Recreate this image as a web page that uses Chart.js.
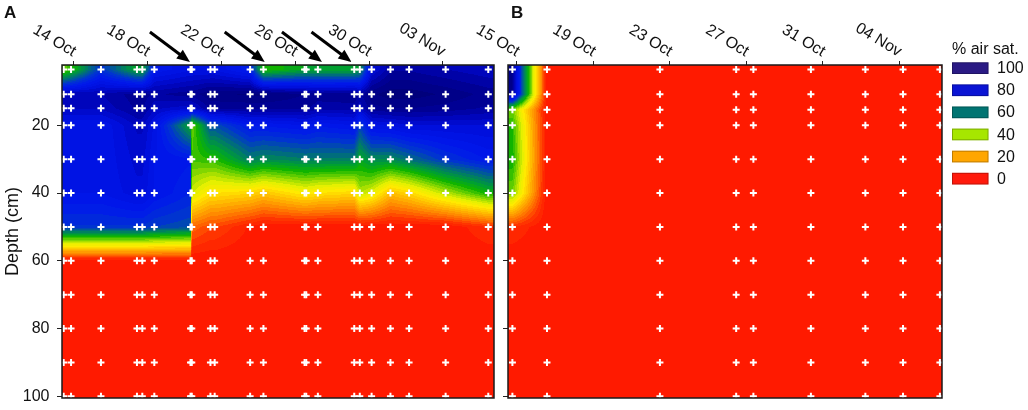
<!DOCTYPE html>
<html>
<head>
<meta charset="utf-8">
<script src="https://cdn.jsdelivr.net/npm/chart.js@4.4.0/dist/chart.umd.min.js"></script>
<style>
  body { margin: 0; background: #fff; width: 1028px; height: 410px; overflow: hidden; }
  #wrapA { position: absolute; left: 0; top: 0; width: 500px; height: 410px; }
  #wrapB { position: absolute; left: 440px; top: 0; width: 588px; height: 410px; }
</style>
</head>
<body>
<div id="wrapA"><canvas id="chartA"></canvas></div>
<div id="wrapB"><canvas id="chartB"></canvas></div>
<script>
// Panel A: sampling times (days after 14 Oct) and depths (cm)
const daysA = [-0.54, -0.14, 1.48, 3.43, 3.72, 4.37, 6.33, 6.40, 7.41, 7.64, 9.56, 10.28,
               12.51, 12.60, 13.23, 15.20, 15.50, 16.14, 17.16, 18.17, 20.15, 22.46];
const depthsA = [3.5, 10.8, 15, 20, 30, 40, 50, 60, 70, 80, 90, 100];
// % air saturation, one row per depth, one column per sampling time
const oxygenA = [
  [45, 50, 72, 55, 55, 78, 82, 82, 82, 82, 76, 50, 55, 55, 55, 55, 58, 84, 92, 92, 90, 88],
  [90, 90, 90, 94, 94, 92, 94, 94, 97, 97, 98, 98, 95, 95, 94, 95, 92, 97, 99, 99, 97, 94],
  [88, 88, 88, 93, 93, 88, 86, 86, 93, 93, 93, 93, 93, 93, 91, 91, 88, 94, 95, 95, 94, 92],
  [80, 80, 80, 88, 88, 82, 55, 45, 68, 68, 78, 78, 80, 80, 78, 80, 70, 82, 83, 85, 85, 85],
  [80, 80, 80, 86, 86, 80, 78, 48, 50, 50, 62, 60, 62, 62, 62, 62, 55, 60, 60, 64, 72, 78],
  [80, 80, 80, 84, 84, 80, 75, 38, 30, 30, 28, 25, 32, 32, 30, 28, 40, 36, 24, 28, 40, 52],
  [72, 72, 72, 72, 72, 70, 68, 12, 8, 8, 2, 0, 0, 0, 0, 0, 0, 0, 0, 0, 0, 5],
  [0, 0, 0, 0, 0, 0, 0, 0, 0, 0, 0, 0, 0, 0, 0, 0, 0, 0, 0, 0, 0, 0],
  [0, 0, 0, 0, 0, 0, 0, 0, 0, 0, 0, 0, 0, 0, 0, 0, 0, 0, 0, 0, 0, 0],
  [0, 0, 0, 0, 0, 0, 0, 0, 0, 0, 0, 0, 0, 0, 0, 0, 0, 0, 0, 0, 0, 0],
  [0, 0, 0, 0, 0, 0, 0, 0, 0, 0, 0, 0, 0, 0, 0, 0, 0, 0, 0, 0, 0, 0],
  [0, 0, 0, 0, 0, 0, 0, 0, 0, 0, 0, 0, 0, 0, 0, 0, 0, 0, 0, 0, 0, 0]
];
const tickDaysA = [0, 4, 8, 12, 16, 20];
const tickLabelsA = ['14 Oct', '18 Oct', '22 Oct', '26 Oct', '30 Oct', '03 Nov'];
const arrowDaysA = [6.3, 10.35, 13.45, 15.05];

// Panel B: sampling times (days after 15 Oct)
const daysB = [-0.24, 1.57, 7.48, 11.47, 12.37, 15.38, 18.23, 20.2, 22.13];
const depthsB = [3.5, 10.8, 15.4, 20, 30, 40, 50, 60, 70, 80, 90, 100];
const oxygenB = [
  [95, 0, 0, 0, 0, 0, 0, 0, 0],
  [95, 0, 0, 0, 0, 0, 0, 0, 0],
  [45, 0, 0, 0, 0, 0, 0, 0, 0],
  [50, 0, 0, 0, 0, 0, 0, 0, 0],
  [52, 0, 0, 0, 0, 0, 0, 0, 0],
  [45, 0, 0, 0, 0, 0, 0, 0, 0],
  [5, 0, 0, 0, 0, 0, 0, 0, 0],
  [0, 0, 0, 0, 0, 0, 0, 0, 0],
  [0, 0, 0, 0, 0, 0, 0, 0, 0],
  [0, 0, 0, 0, 0, 0, 0, 0, 0],
  [0, 0, 0, 0, 0, 0, 0, 0, 0],
  [0, 0, 0, 0, 0, 0, 0, 0, 0]
];
const tickDaysB = [0, 4, 8, 12, 16, 20];
const tickLabelsB = ['15 Oct', '19 Oct', '23 Oct', '27 Oct', '31 Oct', '04 Nov'];

const depthTicks = [20, 40, 60, 80, 100];
const legendLevels = [100, 80, 60, 40, 20, 0];

// colours
const legendColors = ['#2a1a84', '#0a14d4', '#007472', '#a6e600', '#ffa600', '#ff1a0c'];
const rampValues = [0, 5, 10, 15, 20, 25, 30, 35, 40, 45, 50, 55, 60, 65, 70, 76, 82, 87, 92, 100];
const rampColors = ['#ff1a00', '#ff3400', '#ff6200', '#ff8a00', '#ffac00', '#ffcc00', '#ffea00',
                    '#e6f000', '#a8e000', '#5ccc00', '#10b400', '#00a030', '#008060', '#005a98',
                    '#0034d0', '#0018ec', '#0010e0', '#0006c0', '#000096', '#000070'];
const FONT = '"Liberation Sans", Arial, sans-serif';

function hexToRgb(h) {
  return [parseInt(h.slice(1, 3), 16), parseInt(h.slice(3, 5), 16), parseInt(h.slice(5, 7), 16)];
}

function rampAt(v) {
  if (v <= rampValues[0]) return rampColors[0];
  for (let i = 0; i < rampValues.length - 1; i++) {
    if (v <= rampValues[i + 1]) {
      const t = (v - rampValues[i]) / (rampValues[i + 1] - rampValues[i]);
      const a = hexToRgb(rampColors[i]), b = hexToRgb(rampColors[i + 1]);
      return 'rgb(' + a.map((c, k) => Math.round(c + (b[k] - c) * t)).join(',') + ')';
    }
  }
  return rampColors[rampColors.length - 1];
}

// contour bands every 2.5 %
const bandColors = [];
for (let k = 0; k <= 40; k++) bandColors.push(rampAt(k * 2.5));

function locate(arr, v) {
  const n = arr.length;
  if (v <= arr[0]) return [0, 0];
  if (v >= arr[n - 1]) return [n - 2, 1];
  let i = 0;
  while (v > arr[i + 1]) i++;
  return [i, (v - arr[i]) / (arr[i + 1] - arr[i])];
}

const contourPlugin = {
  id: 'contour',
  beforeDatasetsDraw(chart, args, opts) {
    const {ctx, chartArea: a, scales: {x, y}} = chart;
    ctx.save();
    ctx.beginPath();
    ctx.rect(a.left, a.top, a.right - a.left, a.bottom - a.top);
    ctx.clip();
    const x0 = Math.floor(a.left), x1 = Math.ceil(a.right);
    const cols = [];
    for (let px = x0; px < x1; px++) cols.push(locate(opts.days, x.getValueForPixel(px + 0.5)));
    for (let py = Math.floor(a.top); py < Math.ceil(a.bottom); py++) {
      const [j, ty] = locate(opts.depths, y.getValueForPixel(py + 0.5));
      const r0 = opts.grid[j], r1 = opts.grid[j + 1];
      let runStart = x0, runColor = null;
      for (let n = 0; n < cols.length; n++) {
        const [i, tx] = cols[n];
        const top = r0[i] + (r0[i + 1] - r0[i]) * tx;
        const bot = r1[i] + (r1[i + 1] - r1[i]) * tx;
        const v = top + (bot - top) * ty;
        const c = bandColors[Math.max(0, Math.min(40, Math.floor(v / 2.5)))];
        if (c !== runColor) {
          if (runColor) { ctx.fillStyle = runColor; ctx.fillRect(runStart, py, x0 + n - runStart, 1); }
          runColor = c; runStart = x0 + n;
        }
      }
      ctx.fillStyle = runColor;
      ctx.fillRect(runStart, py, x1 - runStart, 1);
    }
    ctx.restore();
  },
  afterDatasetsDraw(chart, args, opts) {
    const {ctx, chartArea: a, scales: {x, y}} = chart;
    ctx.save();
    ctx.strokeStyle = '#1a1a1a';
    ctx.lineWidth = 1.5;
    ctx.strokeRect(a.left, a.top, a.right - a.left, a.bottom - a.top);

    // date labels along the top, rotated
    ctx.fillStyle = '#111';
    ctx.font = '16px ' + FONT;
    ctx.textAlign = 'right';
    ctx.textBaseline = 'middle';
    opts.tickDays.forEach((d, k) => {
      const px = x.getPixelForValue(d);
      ctx.save();
      ctx.translate(px + 1, a.top - 12);
      ctx.rotate(31 * Math.PI / 180);
      ctx.fillText(opts.tickLabels[k], 0, 0);
      ctx.restore();
    });

    if (opts.depthLabels) {
      ctx.textAlign = 'right';
      depthTicks.forEach(d => ctx.fillText(String(d), a.left - 12.5, y.getPixelForValue(d)));
    }

    // panel letter
    ctx.font = 'bold 17px ' + FONT;
    ctx.textAlign = 'left';
    ctx.textBaseline = 'alphabetic';
    ctx.fillText(opts.letter, opts.letterX, 18);

    // event arrows
    (opts.arrows || []).forEach(d => {
      const hx = x.getPixelForValue(d), hy = a.top - 3;
      const tx = hx - 40, ty = hy - 30;
      const len = Math.hypot(hx - tx, hy - ty), ux = (hx - tx) / len, uy = (hy - ty) / len;
      ctx.strokeStyle = '#000';
      ctx.fillStyle = '#000';
      ctx.lineWidth = 3;
      ctx.beginPath();
      ctx.moveTo(tx, ty);
      ctx.lineTo(hx - ux * 10, hy - uy * 10);
      ctx.stroke();
      ctx.beginPath();
      ctx.moveTo(hx, hy);
      ctx.lineTo(hx - ux * 13 - uy * 5.5, hy - uy * 13 + ux * 5.5);
      ctx.lineTo(hx - ux * 13 + uy * 5.5, hy - uy * 13 - ux * 5.5);
      ctx.closePath();
      ctx.fill();
    });

    if (opts.legend) {
      const lx = a.right + 10;
      ctx.fillStyle = '#111';
      ctx.font = '16px ' + FONT;
      ctx.textBaseline = 'alphabetic';
      ctx.fillText('% air sat.', lx, 54);
      ctx.textBaseline = 'middle';
      legendLevels.forEach((lv, k) => {
        const by = 62.3 + k * 22.1;
        ctx.fillStyle = legendColors[k];
        ctx.fillRect(lx, by, 36.5, 11.7);
        ctx.strokeStyle = 'rgba(0,0,0,0.25)';
        ctx.lineWidth = 1;
        ctx.strokeRect(lx + 0.5, by + 0.5, 35.5, 10.7);
        ctx.fillStyle = '#111';
        ctx.fillText(String(lv), lx + 45, by + 6.5);
      });
    }
    ctx.restore();
  }
};

function sampleGrid(days, depths) {
  const pts = [];
  days.forEach(d => depths.forEach(z => pts.push({x: d, y: z})));
  return pts;
}

function makeChart(id, cfg) {
  return new Chart(document.getElementById(id), {
    type: 'scatter',
    data: {
      datasets: [{
        data: sampleGrid(cfg.days, cfg.depths),
        pointStyle: 'cross',
        pointRadius: 3.5,
        borderWidth: 2,
        borderColor: '#ffffff',
        backgroundColor: '#ffffff'
      }]
    },
    options: {
      responsive: true,
      maintainAspectRatio: false,
      animation: false,
      events: [],
      layout: { padding: cfg.padding },
      plugins: {
        legend: { display: false },
        tooltip: { enabled: false },
        contour: cfg.plugin
      },
      scales: {
        x: {
          type: 'linear',
          position: 'top',
          min: cfg.xMin,
          max: cfg.xMax,
          afterBuildTicks: s => { s.ticks = cfg.tickDays.map(v => ({value: v})); },
          afterFit: s => { s.height = 65; },
          ticks: { display: false },
          grid: { drawOnChartArea: false, tickLength: 4, color: '#222' },
          border: { display: false }
        },
        y: {
          type: 'linear',
          reverse: true,
          min: 2.2,
          max: 100.5,
          afterBuildTicks: s => { s.ticks = depthTicks.map(v => ({value: v})); },
          afterFit: s => { s.width = cfg.yWidth; },
          ticks: { display: false },
          grid: { drawOnChartArea: false, tickLength: 5, color: '#222' },
          border: { display: false },
          title: {
            display: cfg.yTitle,
            text: 'Depth (cm)',
            color: '#111',
            font: { size: 18, family: FONT },
            padding: { top: 2, bottom: 0 }
          }
        }
      }
    },
    plugins: [contourPlugin]
  });
}

makeChart('chartA', {
  days: daysA, depths: depthsA, tickDays: tickDaysA,
  xMin: -0.63, xMax: 22.77, yWidth: 62, yTitle: true,
  padding: { left: 0, top: 0, right: 4, bottom: 12 },
  plugin: {
    days: daysA, depths: depthsA, grid: oxygenA,
    tickDays: tickDaysA, tickLabels: tickLabelsA,
    depthLabels: true, letter: 'A', letterX: 4, arrows: arrowDaysA
  }
});

makeChart('chartB', {
  days: daysB, depths: depthsB, tickDays: tickDaysB,
  xMin: -0.47, xMax: 22.24, yWidth: 68, yTitle: false,
  padding: { left: 0, top: 0, right: 86, bottom: 12 },
  plugin: {
    days: daysB, depths: depthsB, grid: oxygenB,
    tickDays: tickDaysB, tickLabels: tickLabelsB,
    depthLabels: false, letter: 'B', letterX: 71, legend: true
  }
});
</script>
</body>
</html>
